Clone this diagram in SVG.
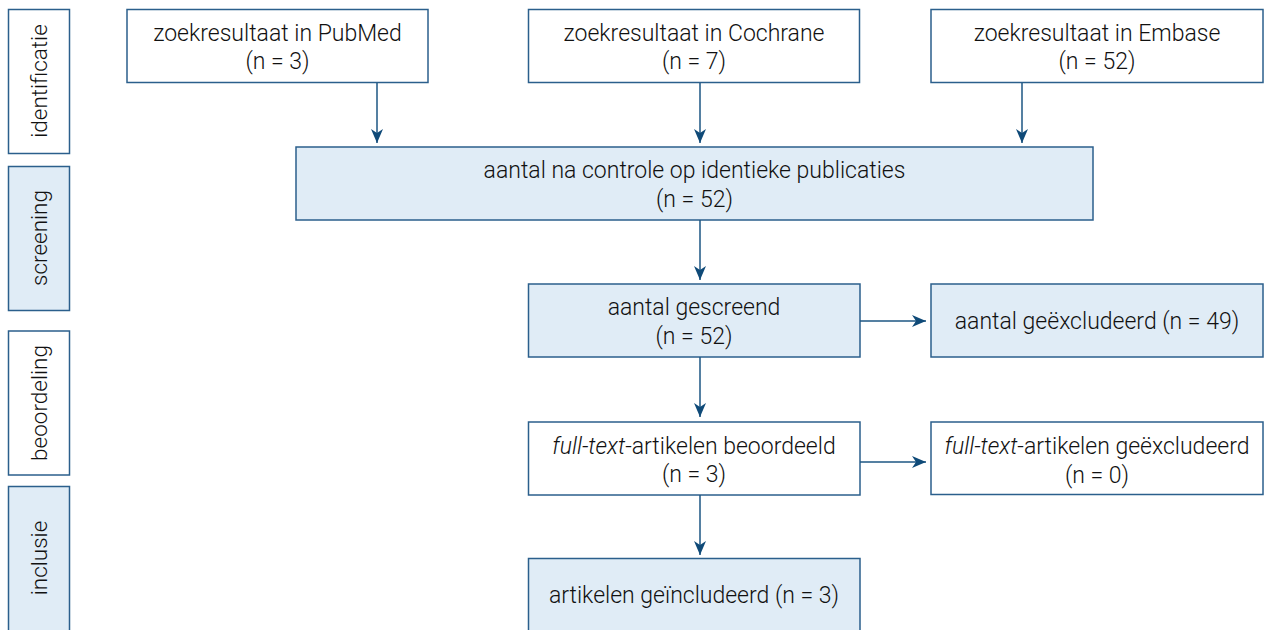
<svg xmlns="http://www.w3.org/2000/svg" width="1267" height="630" viewBox="0 0 1267 630">
<style>
  .box{stroke:#2b5f8c;stroke-width:1.5;fill:#ffffff}
  .blue{fill:#e0ecf6}
  .t{font-family:Roboto,"Liberation Sans",sans-serif;font-size:23px;font-weight:300;fill:#111111;text-anchor:middle}
  .lab{font-family:Roboto,"Liberation Sans",sans-serif;font-size:22.5px;font-weight:300;fill:#111111;text-anchor:middle}
  .c{stroke:#1d5683;stroke-width:1.5;fill:none;marker-end:url(#ah)}
</style>
<defs>
  <marker id="ah" markerUnits="userSpaceOnUse" markerWidth="14" markerHeight="12" viewBox="0 0 14 12" refX="14" refY="6" orient="auto">
    <path d="M0,0 L14,6 L0,12 L4,6 Z" fill="#0f4a78"/>
  </marker>
</defs>
<g id="phase-identificatie">
  <rect class="box" x="8.5" y="9.5" width="61" height="144"/>
  <text class="lab" transform="translate(47,81) rotate(-90)">identificatie</text>
</g>
<g id="phase-screening">
  <rect class="box blue" x="8.5" y="166.5" width="61" height="144"/>
  <text class="lab" transform="translate(47,238) rotate(-90)">screening</text>
</g>
<g id="phase-beoordeling">
  <rect class="box" x="8.5" y="331" width="61" height="144"/>
  <text class="lab" transform="translate(47,403) rotate(-90)">beoordeling</text>
</g>
<g id="phase-inclusie">
  <rect class="box blue" x="8.5" y="486.5" width="61" height="160"/>
  <text class="lab" transform="translate(47,558) rotate(-90)">inclusie</text>
</g>
<g id="pubmed">
  <rect class="box" x="127" y="9.5" width="301" height="73"/>
  <text class="t" x="277.5" y="41">zoekresultaat in PubMed</text>
  <text class="t" x="277.5" y="69">(n = 3)</text>
</g>
<g id="cochrane">
  <rect class="box" x="528.5" y="9.5" width="331" height="73"/>
  <text class="t" x="694" y="41">zoekresultaat in Cochrane</text>
  <text class="t" x="694" y="69">(n = 7)</text>
</g>
<g id="embase">
  <rect class="box" x="931" y="9.5" width="332" height="73"/>
  <text class="t" x="1097" y="41">zoekresultaat in Embase</text>
  <text class="t" x="1097" y="69">(n = 52)</text>
</g>
<g id="controle">
  <rect class="box blue" x="296" y="147" width="797" height="73"/>
  <text class="t" x="694.5" y="177.5">aantal na controle op identieke publicaties</text>
  <text class="t" x="694.5" y="207">(n = 52)</text>
</g>
<g id="gescreend">
  <rect class="box blue" x="528.5" y="284" width="331.5" height="73"/>
  <text class="t" x="694" y="315">aantal gescreend</text>
  <text class="t" x="694" y="343.5">(n = 52)</text>
</g>
<g id="geexcludeerd">
  <rect class="box blue" x="931" y="284" width="332" height="73"/>
  <text class="t" x="1097" y="328.5">aantal geëxcludeerd (n = 49)</text>
</g>
<g id="fulltext">
  <rect class="box" x="528.5" y="422" width="331.5" height="73"/>
  <text class="t" x="694" y="453.5"><tspan font-style="italic">full-text</tspan>-artikelen beoordeeld</text>
  <text class="t" x="694" y="482">(n = 3)</text>
</g>
<g id="fulltext-excluded">
  <rect class="box" x="931" y="422" width="332" height="72.5"/>
  <text class="t" x="1097" y="453.5"><tspan font-style="italic">full-text</tspan>-artikelen geëxcludeerd</text>
  <text class="t" x="1097" y="482.5">(n = 0)</text>
</g>
<g id="geincludeerd">
  <rect class="box blue" x="528.5" y="558.5" width="331.5" height="90"/>
  <text class="t" x="694" y="603">artikelen geïncludeerd (n = 3)</text>
</g>
<g id="connectors">
  <line class="c" x1="377" y1="83" x2="377" y2="143"/>
  <line class="c" x1="700" y1="83" x2="700" y2="143"/>
  <line class="c" x1="1022" y1="83" x2="1022" y2="143"/>
  <line class="c" x1="700" y1="220" x2="700" y2="280"/>
  <line class="c" x1="860" y1="321" x2="926" y2="321"/>
  <line class="c" x1="700" y1="357" x2="700" y2="417"/>
  <line class="c" x1="860" y1="462" x2="926" y2="462"/>
  <line class="c" x1="700" y1="495" x2="700" y2="555"/>
</g>
</svg>
